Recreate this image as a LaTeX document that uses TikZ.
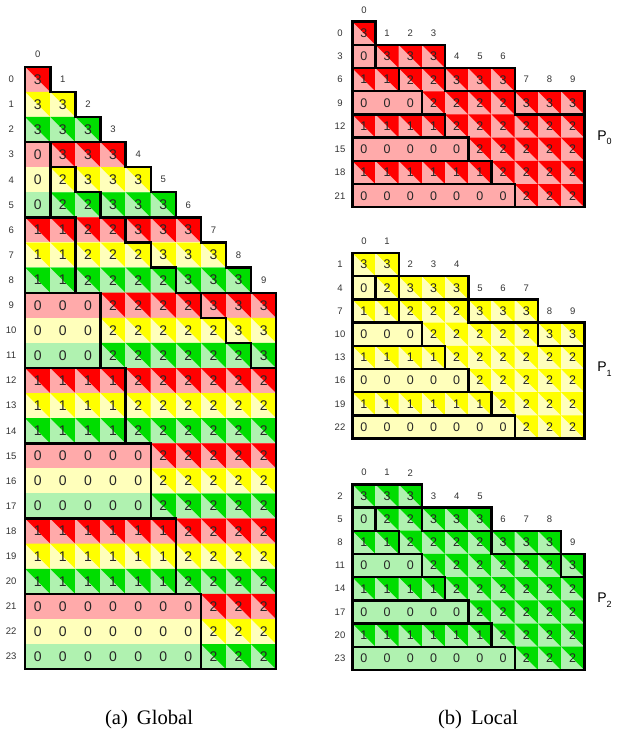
\documentclass[tikz,border=0pt]{standalone}
\usepackage{fontspec}
\setmainfont{Liberation Sans}
\newfontfamily\capfont{Liberation Serif}
\definecolor{dk0}{RGB}{255,0,0}
\definecolor{lt0}{RGB}{255,170,170}
\definecolor{dk1}{RGB}{255,255,0}
\definecolor{lt1}{RGB}{255,255,187}
\definecolor{dk2}{RGB}{0,221,0}
\definecolor{lt2}{RGB}{176,242,176}
\tikzset{
  border/.style={line width=2.4pt, line join=miter},
  gnum/.style={font=\fontsize{14}{14}\selectfont, text=black!85, inner sep=0pt},
  lnum/.style={font=\fontsize{12.5}{12.5}\selectfont, text=black!85, inner sep=0pt},
  idx/.style={font=\fontsize{9.5}{9.5}\selectfont, text=black!80, inner sep=0pt},
}
% value of tile (i,j): 0/1 left of the block column, 3 on the band, 2 elsewhere
\newcommand{\tileval}[2]{%
  \pgfmathtruncatemacro{\blk}{floor(#1/3)}%
  \ifnum#2<\blk
    \pgfmathtruncatemacro{\val}{1-mod(\blk,2)}%
  \else\ifnum#2<\numexpr#1-2\relax
    \def\val{2}%
  \else
    \def\val{3}%
  \fi\fi
}
% one tile: light square, dark upper right half unless the value is 0
\newcommand{\tilecell}[4]{%
  \fill[lt#3, draw=lt#3, line width=0.4pt] (#1,#2) rectangle ++(1,1);
  \ifnum#4>0 \fill[dk#3] (#1,#2) -- ++(1,0) -- ++(0,1) -- cycle;\fi
}
\begin{document}
\begin{tikzpicture}[x=1pt, y=-1pt, line join=miter]
  \useasboundingbox (0,0) rectangle (616,735);
  % (a) global matrix
  \begin{scope}[shift={(25.2pt,-66.8pt)}, x=25.1pt, y=-25.1pt]
    \foreach \i in {0,...,23}{
      \pgfmathtruncatemacro{\proc}{mod(\i,3)}
      \pgfmathtruncatemacro{\last}{min(\i,9)}
      \foreach \j in {0,...,\last}{
        \tileval{\i}{\j}
        \tilecell{\j}{\i}{\proc}{\val}
        \node[gnum] (g\i-\j) at (\j+0.5,\i+0.5) {\val};
      }
      \node[idx] (grow\i) at (-0.56,\i+0.5) {\i};
    }
    \foreach \j in {0,...,9}
      \node[idx] (gcol\j) at (\j+0.5,\j-0.5) {\j};
    % boxes of 0 and 1
    \foreach \b in {1,...,7}
      \draw[border] (0,3*\b) rectangle (\b,3*\b+3);
    % bands of 3
    \draw[border] (0,0) -- (0,3) -- (3,3) -- (3,2) -- (2,2) -- (2,1) -- (1,1) -- (1,0) -- cycle;
    \foreach \b in {1,2}
      \draw[border] (3*\b-2,3*\b) -- (3*\b-2,3*\b+1) -- (3*\b-1,3*\b+1) -- (3*\b-1,3*\b+2)
        -- (3*\b,3*\b+2) -- (3*\b,3*\b+3) -- (3*\b+3,3*\b+3) -- (3*\b+3,3*\b+2)
        -- (3*\b+2,3*\b+2) -- (3*\b+2,3*\b+1) -- (3*\b+1,3*\b+1) -- (3*\b+1,3*\b) -- cycle;
    \draw[border] (7,9) -- (7,10) -- (8,10) -- (8,11) -- (9,11) -- (9,12) -- (10,12) -- (10,9) -- cycle;
    % outline
    \draw[border] (0,24) -- (0,0) \foreach \k in {1,...,9}{ -- (\k,\k-1) -- (\k,\k) } -- (10,9) -- (10,24) -- cycle;
  \end{scope}
  % (b) local matrices, one per process
  \foreach \r in {0,1,2}{
    \begin{scope}[shift={(352.3pt,{-21.7pt-231.3pt*\r})}, x=23.2pt, y=-23.2pt]
      \foreach \k in {0,...,7}{
        \pgfmathtruncatemacro{\i}{3*\k+\r}
        \pgfmathtruncatemacro{\last}{min(\i,9)}
        \foreach \j in {0,...,\last}{
          \tileval{\i}{\j}
          \tilecell{\j}{\k}{\r}{\val}
          \node[lnum] (p\r-\k-\j) at (\j+0.5,\k+0.5) {\val};
        }
        \node[idx] (prow\r-\k) at (-0.53,\k+0.5) {\i};
      }
      \foreach \j in {0,...,9}{
        \pgfmathtruncatemacro{\kz}{max(0,ceil((\j-\r)/3))}
        \node[idx] (pcol\r-\j) at (\j+0.5,\kz-0.5) {\j};
      }
      \foreach \k in {0,...,7}{
        \pgfmathtruncatemacro{\i}{3*\k+\r}
        \pgfmathtruncatemacro{\lo}{max(\k,\i-2)}
        \pgfmathtruncatemacro{\hi}{min(\i+1,10)}
        \ifnum\k>0 \draw[border] (0,\k) rectangle (\k,\k+1);\fi
        \ifnum\lo<\hi \draw[border] (\lo,\k) rectangle (\hi,\k+1);\fi
      }
      \draw[border] (0,8) -- (0,0) \foreach \k in {0,1,2}{ -- ({3*\k+\r+1},\k) -- ({3*\k+\r+1},\k+1) } -- (10,3) -- (10,8) -- cycle;
      \node[anchor=west, inner sep=0pt, font=\fontsize{14}{14}\selectfont] (plab\r) at (10.55,5)
        {P\raisebox{-0.6ex}{\fontsize{9}{9}\selectfont\r}};
    \end{scope}
  }
  % captions
  \node[anchor=base, inner sep=0pt, font=\capfont\fontsize{20.6}{20.6}\selectfont] (capa) at (149,724) {(a)\hspace{0.44em}Global};
  \node[anchor=base, inner sep=0pt, font=\capfont\fontsize{20.6}{20.6}\selectfont] (capb) at (478,724) {(b)\hspace{0.44em}Local};
\end{tikzpicture}
\end{document}
